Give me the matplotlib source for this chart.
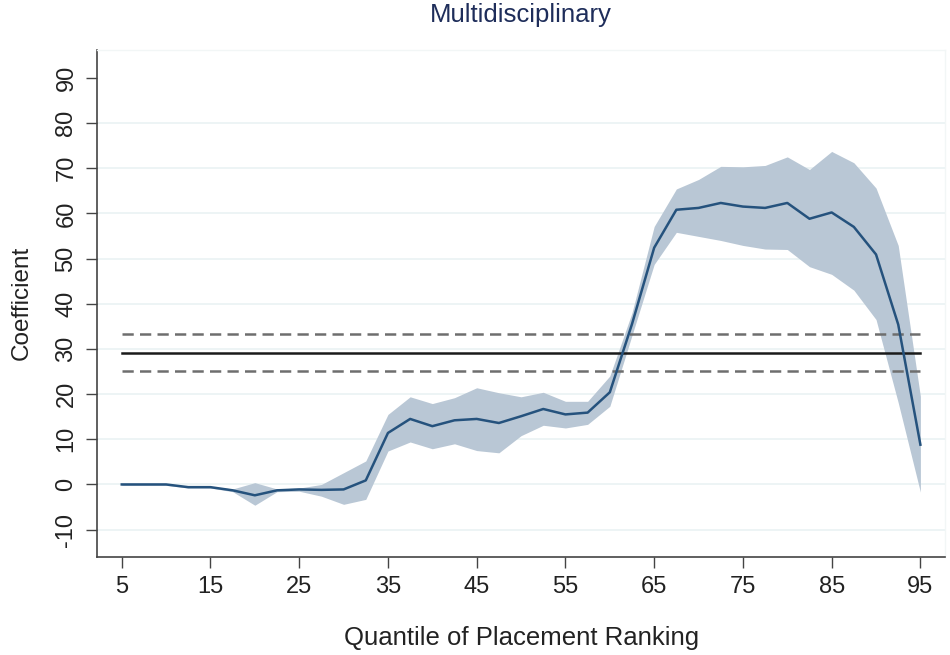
import numpy as np
import matplotlib.pyplot as plt

plt.rcParams['font.family'] = ['Liberation Sans', 'DejaVu Sans']
plt.rcParams['axes.unicode_minus'] = False

# quantiles (every 2.5)
quantile = np.arange(5, 95.1, 2.5)

coef = [0.0, 0.0, 0.0, -0.6, -0.6, -1.3, -2.4, -1.3, -1.1, -1.2, -1.1, 0.9, 11.4,
        14.5, 12.9, 14.2, 14.5, 13.6, 15.1, 16.7, 15.5, 15.9, 20.4, 35.5, 52.4,
        60.8, 61.2, 62.3, 61.5, 61.2, 62.3, 58.8, 60.2, 57.0, 50.9, 35.4, 8.8]
ci_hi = [0.2, 0.2, 0.2, -0.4, -0.4, -1.0, 0.4, -1.0, -0.8, 0.0, 2.6, 5.2, 15.5,
         19.4, 17.9, 19.2, 21.4, 20.3, 19.4, 20.4, 18.4, 18.4, 24.0, 38.0, 57.1,
         65.4, 67.5, 70.4, 70.3, 70.6, 72.5, 69.7, 73.7, 71.2, 65.6, 52.9, 19.5]
ci_lo = [-0.2, -0.2, -0.2, -0.8, -0.8, -1.6, -4.6, -1.6, -1.5, -2.6, -4.4, -3.3, 7.4,
         9.4, 7.9, 9.0, 7.5, 7.0, 10.8, 13.1, 12.5, 13.3, 17.3, 33.0, 48.7,
         55.8, 54.9, 54.0, 52.9, 52.1, 52.0, 48.2, 46.5, 43.0, 36.5, 18.1, -1.7]

# overall estimate and its CI
overall = 29.2
overall_hi = 33.4
overall_lo = 25.0

fig = plt.figure(figsize=(9.5, 6.55), dpi=100)
ax = fig.add_axes([0.102, 0.150, 0.893, 0.774])

for v in range(-10, 90, 10):
    ax.axhline(v, color='#eaf2f3', lw=1.2, zorder=0)

ax.fill_between(quantile, ci_lo, ci_hi, color='#b9c7d5', lw=0, zorder=1)
ax.plot(quantile, coef, color='#25527d', lw=1.8, zorder=3)

ax.plot([5, 95], [overall, overall], color='#1a1a1a', lw=1.8, zorder=2)
ax.plot([5, 95], [overall_hi, overall_hi], color='#6e6e6e', lw=1.8, ls=(0, (4.5, 2.5)), zorder=2)
ax.plot([5, 95], [overall_lo, overall_lo], color='#6e6e6e', lw=1.8, ls=(0, (4.5, 2.5)), zorder=2)

ax.set_xlim(2.2, 97.8)
ax.set_ylim(-16, 96.2)
ax.set_xticks(np.arange(5, 96, 10))
ax.set_yticks(np.arange(-10, 91, 10))
ax.tick_params(axis='both', direction='out', length=8, width=1, color='#444444',
               labelsize=17, labelcolor='#222222', pad=6)
for lab in ax.get_yticklabels():
    lab.set_rotation(90)
    lab.set_va('center')

for s in ['left', 'bottom']:
    ax.spines[s].set_color('#444444')
    ax.spines[s].set_linewidth(1.2)
for s in ['top', 'right']:
    ax.spines[s].set_color('#f2f6f6')
    ax.spines[s].set_linewidth(1)

ax.set_xlabel('Quantile of Placement Ranking', fontsize=18.5, color='#222222', labelpad=20)
ax.set_ylabel('Coefficient', fontsize=17.5, color='#222222', labelpad=16)
ax.set_title('Multidisciplinary', fontsize=18.5, color='#1e2d5a', pad=20)

fig.savefig('out.png', dpi=100)
